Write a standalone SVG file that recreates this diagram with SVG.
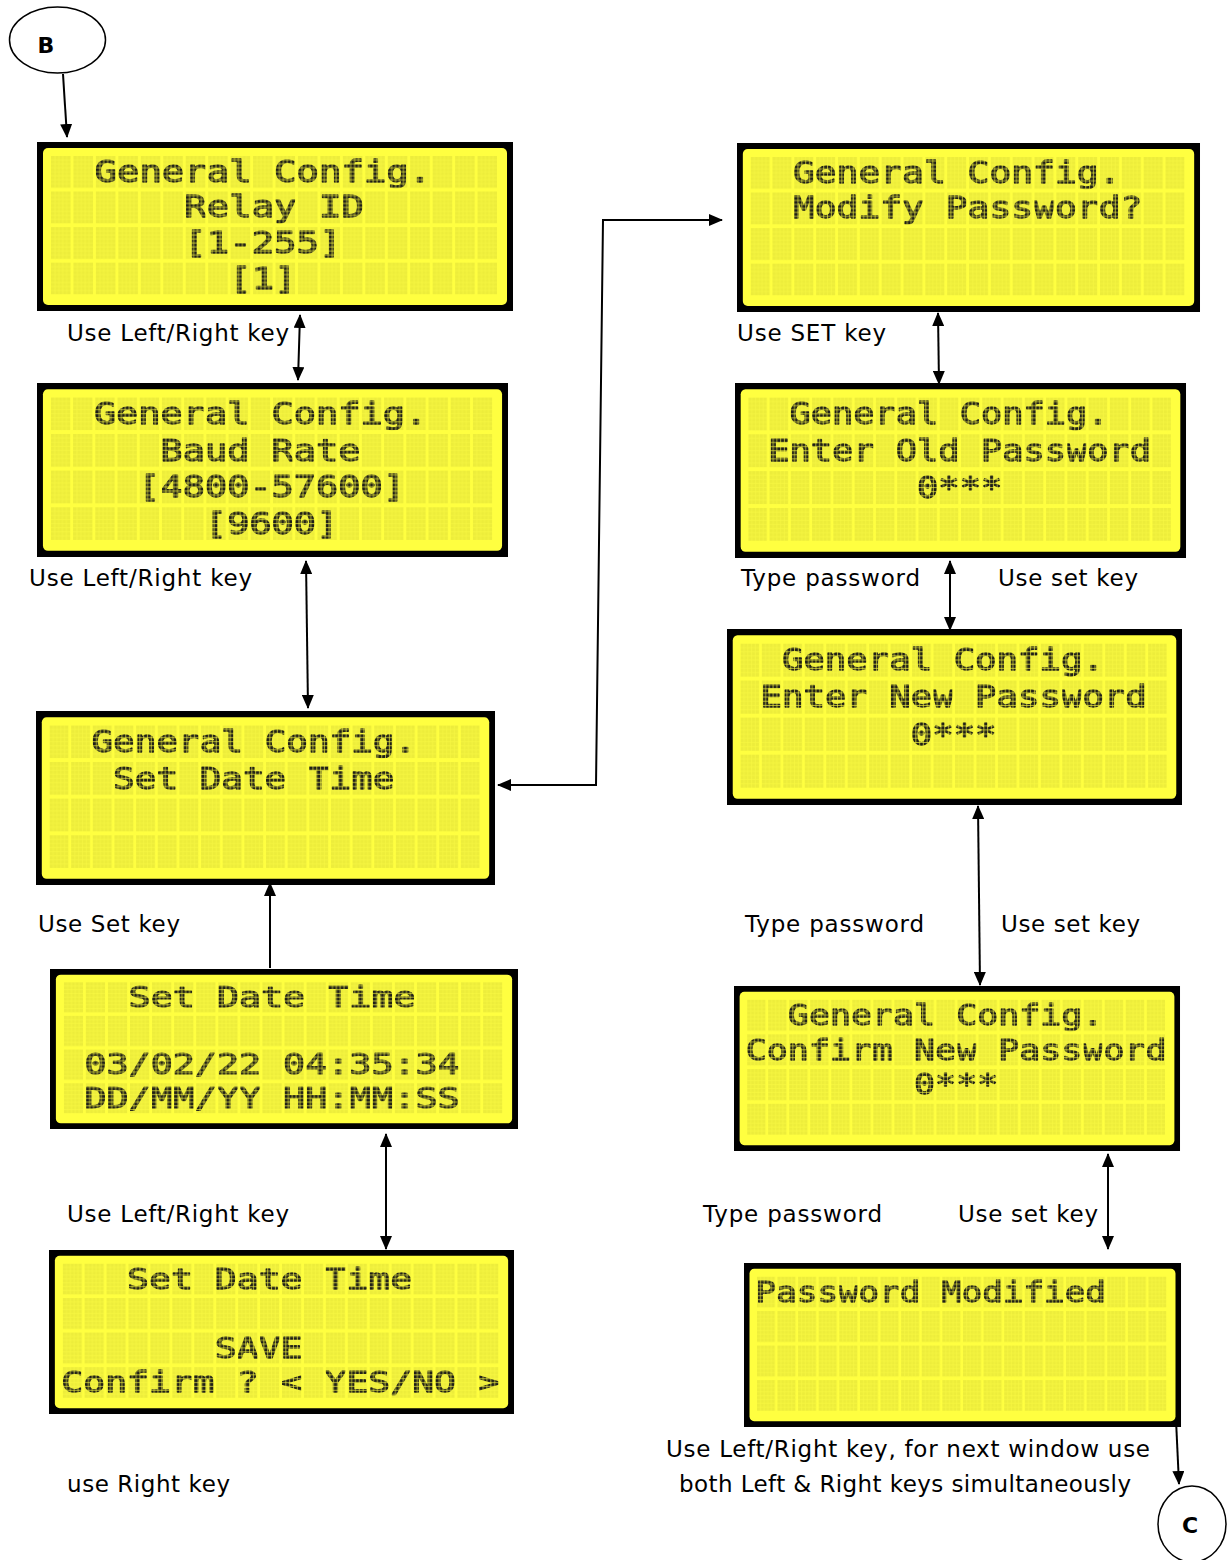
<svg xmlns="http://www.w3.org/2000/svg" width="1231" height="1560" viewBox="0 0 1231 1560">
<style>
.lbl{font-family:"DejaVu Sans",Verdana,sans-serif;font-size:23px;fill:#000}
.lcd{font-family:"DejaVu Sans Mono","Liberation Mono",monospace;font-size:29.5px;fill:#1f1f18;stroke:#1f1f18;stroke-width:1.3;stroke-linejoin:round}
.conn{fill:none;stroke:#000;stroke-width:2}
.term{fill:#fff;stroke:#000;stroke-width:1.5}
.termtxt{font-family:"DejaVu Sans",Verdana,sans-serif;font-size:22px;font-weight:bold;fill:#000;text-anchor:middle}
</style>
<defs>
<pattern id="cells" patternUnits="userSpaceOnUse" x="14" y="14" width="22.45" height="35.8">
<rect width="19.6" height="32" fill="#EDED3B"/>
<path d="M3.92 0V32M7.84 0V32M11.76 0V32M15.68 0V32M0 4H19.6M0 8H19.6M0 12H19.6M0 16H19.6M0 20H19.6M0 24H19.6M0 28H19.6" stroke="#F7F740" stroke-width="0.7"/>
</pattern>
<pattern id="dotpat" patternUnits="userSpaceOnUse" x="14" y="14" width="22.45" height="35.8">
<rect width="19.6" height="32" fill="#fff"/>
<path d="M3.92 0V32M7.84 0V32M11.76 0V32M15.68 0V32M0 4H19.6M0 8H19.6M0 12H19.6M0 16H19.6M0 20H19.6M0 24H19.6M0 28H19.6" stroke="#000" stroke-width="0.7"/>
</pattern>
<mask id="dotmask" maskUnits="userSpaceOnUse" x="0" y="0" width="476" height="170">
<rect x="14" y="14" width="446.15" height="139.4" fill="url(#dotpat)"/>
</mask>
<g id="lcd">
<rect width="476" height="170" fill="#000"/>
<rect x="6" y="6" width="464" height="158" rx="5" fill="#FFFF40"/>
<rect x="14" y="14" width="446.15" height="139.4" fill="url(#cells)"/>
</g>
<marker id="ah" viewBox="0 0 14 12" refX="13" refY="6" markerWidth="14" markerHeight="12" markerUnits="userSpaceOnUse" orient="auto-start-reverse">
<path d="M0 0L14 6L0 12z" fill="#000"/>
</marker>
</defs>
<rect width="1231" height="1560" fill="#fff"/>

<g id="connectors">
<path class="conn" d="M63 74L67 137" marker-end="url(#ah)"/>
<path class="conn" d="M300 315L298 380" marker-start="url(#ah)" marker-end="url(#ah)"/>
<path class="conn" d="M306 561L308 708" marker-start="url(#ah)" marker-end="url(#ah)"/>
<path class="conn" d="M270 968L270 883" marker-end="url(#ah)"/>
<path class="conn" d="M386 1134L386 1249" marker-start="url(#ah)" marker-end="url(#ah)"/>
<path class="conn" d="M498 785L596 785L603 220L722 220" marker-start="url(#ah)" marker-end="url(#ah)"/>
<path class="conn" d="M938 313L939 384" marker-start="url(#ah)" marker-end="url(#ah)"/>
<path class="conn" d="M950 561L950 630" marker-start="url(#ah)" marker-end="url(#ah)"/>
<path class="conn" d="M978 806L980 985" marker-start="url(#ah)" marker-end="url(#ah)"/>
<path class="conn" d="M1108 1154L1108 1249" marker-start="url(#ah)" marker-end="url(#ah)"/>
<path class="conn" d="M1176 1420L1179 1484" marker-end="url(#ah)"/>
</g>

<g id="term-b">
<ellipse class="term" cx="57.5" cy="40" rx="48" ry="33"/>
<text class="termtxt" x="46" y="53">B</text>
</g>
<g id="term-c">
<ellipse class="term" cx="1192" cy="1524" rx="34" ry="38"/>
<text class="termtxt" x="1190" y="1533">C</text>
</g>

<g id="scr-relay-id" transform="translate(37 142) scale(1 0.9941)">
<use href="#lcd"/>
<g mask="url(#dotmask)">
<text class="lcd" x="57.5" y="40" textLength="336.75" lengthAdjust="spacingAndGlyphs">General Config.</text>
<text class="lcd" x="147.3" y="75.8" textLength="179.6" lengthAdjust="spacingAndGlyphs">Relay ID</text>
<text class="lcd" x="147.3" y="111.6" textLength="157.15" lengthAdjust="spacingAndGlyphs">[1-255]</text>
<text class="lcd" x="192.2" y="147.4" textLength="67.35" lengthAdjust="spacingAndGlyphs">[1]</text>
</g>
</g>

<g id="scr-baud-rate" transform="translate(37 383) scale(0.9895 1.0235)">
<use href="#lcd"/>
<g mask="url(#dotmask)">
<text class="lcd" x="57.5" y="40" textLength="336.75" lengthAdjust="spacingAndGlyphs">General Config.</text>
<text class="lcd" x="124.85" y="75.8" textLength="202.05" lengthAdjust="spacingAndGlyphs">Baud Rate</text>
<text class="lcd" x="102.4" y="111.6" textLength="269.4" lengthAdjust="spacingAndGlyphs">[4800-57600]</text>
<text class="lcd" x="169.75" y="147.4" textLength="134.7" lengthAdjust="spacingAndGlyphs">[9600]</text>
</g>
</g>

<g id="scr-set-date-time" transform="translate(36 711) scale(0.9643 1.0235)">
<use href="#lcd"/>
<g mask="url(#dotmask)">
<text class="lcd" x="57.5" y="40" textLength="336.75" lengthAdjust="spacingAndGlyphs">General Config.</text>
<text class="lcd" x="79.95" y="75.8" textLength="291.85" lengthAdjust="spacingAndGlyphs">Set Date Time</text>
</g>
</g>

<g id="scr-date-time-edit" transform="translate(50 969) scale(0.9832 0.9412)">
<use href="#lcd"/>
<g mask="url(#dotmask)">
<text class="lcd" x="79.95" y="40" textLength="291.85" lengthAdjust="spacingAndGlyphs">Set Date Time</text>
<text class="lcd" x="35.05" y="111.6" textLength="381.65" lengthAdjust="spacingAndGlyphs">03/02/22 04:35:34</text>
<text class="lcd" x="35.05" y="147.4" textLength="381.65" lengthAdjust="spacingAndGlyphs">DD/MM/YY HH:MM:SS</text>
</g>
</g>

<g id="scr-date-time-save" transform="translate(49 1250) scale(0.9769 0.9647)">
<use href="#lcd"/>
<g mask="url(#dotmask)">
<text class="lcd" x="79.95" y="40" textLength="291.85" lengthAdjust="spacingAndGlyphs">Set Date Time</text>
<text class="lcd" x="169.75" y="111.6" textLength="89.8" lengthAdjust="spacingAndGlyphs">SAVE</text>
<text class="lcd" x="12.6" y="147.4" textLength="449" lengthAdjust="spacingAndGlyphs">Confirm ? &lt; YES/NO &gt;</text>
</g>
</g>

<g id="scr-modify-password" transform="translate(737 143) scale(0.9727 0.9941)">
<use href="#lcd"/>
<g mask="url(#dotmask)">
<text class="lcd" x="57.5" y="40" textLength="336.75" lengthAdjust="spacingAndGlyphs">General Config.</text>
<text class="lcd" x="57.5" y="75.8" textLength="359.2" lengthAdjust="spacingAndGlyphs">Modify Password?</text>
</g>
</g>

<g id="scr-old-password" transform="translate(735 383) scale(0.9475 1.0294)">
<use href="#lcd"/>
<g mask="url(#dotmask)">
<text class="lcd" x="57.5" y="40" textLength="336.75" lengthAdjust="spacingAndGlyphs">General Config.</text>
<text class="lcd" x="35.05" y="75.8" textLength="404.1" lengthAdjust="spacingAndGlyphs">Enter Old Password</text>
<text class="lcd" x="192.2" y="111.6" textLength="89.8" lengthAdjust="spacingAndGlyphs">0***</text>
</g>
</g>

<g id="scr-new-password" transform="translate(727 629) scale(0.9559 1.0353)">
<use href="#lcd"/>
<g mask="url(#dotmask)">
<text class="lcd" x="57.5" y="40" textLength="336.75" lengthAdjust="spacingAndGlyphs">General Config.</text>
<text class="lcd" x="35.05" y="75.8" textLength="404.1" lengthAdjust="spacingAndGlyphs">Enter New Password</text>
<text class="lcd" x="192.2" y="111.6" textLength="89.8" lengthAdjust="spacingAndGlyphs">0***</text>
</g>
</g>

<g id="scr-confirm-password" transform="translate(734 986) scale(0.937 0.9706)">
<use href="#lcd"/>
<g mask="url(#dotmask)">
<text class="lcd" x="57.5" y="40" textLength="336.75" lengthAdjust="spacingAndGlyphs">General Config.</text>
<text class="lcd" x="12.6" y="75.8" textLength="449" lengthAdjust="spacingAndGlyphs">Confirm New Password</text>
<text class="lcd" x="192.2" y="111.6" textLength="89.8" lengthAdjust="spacingAndGlyphs">0***</text>
</g>
</g>

<g id="scr-password-modified" transform="translate(744 1263) scale(0.9181 0.9647)">
<use href="#lcd"/>
<g mask="url(#dotmask)">
<text class="lcd" x="12.6" y="40" textLength="381.65" lengthAdjust="spacingAndGlyphs">Password Modified</text>
</g>
</g>

<g id="labels">
<text class="lbl" x="67" y="341" textLength="222">Use Left/Right key</text>
<text class="lbl" x="29" y="586" textLength="223">Use Left/Right key</text>
<text class="lbl" x="38" y="932" textLength="142">Use Set key</text>
<text class="lbl" x="67" y="1222" textLength="222">Use Left/Right key</text>
<text class="lbl" x="67" y="1492" textLength="163">use Right key</text>
<text class="lbl" x="737" y="341" textLength="149">Use SET key</text>
<text class="lbl" x="741" y="586" textLength="179">Type password</text>
<text class="lbl" x="998" y="586" textLength="140">Use set key</text>
<text class="lbl" x="745" y="932" textLength="179">Type password</text>
<text class="lbl" x="1001" y="932" textLength="139">Use set key</text>
<text class="lbl" x="703" y="1222" textLength="179">Type password</text>
<text class="lbl" x="958" y="1222" textLength="140">Use set key</text>
<text class="lbl" x="666" y="1457" textLength="484">Use Left/Right key, for next window use</text>
<text class="lbl" x="679" y="1492" textLength="452">both Left &amp; Right keys simultaneously</text>
</g>
</svg>
